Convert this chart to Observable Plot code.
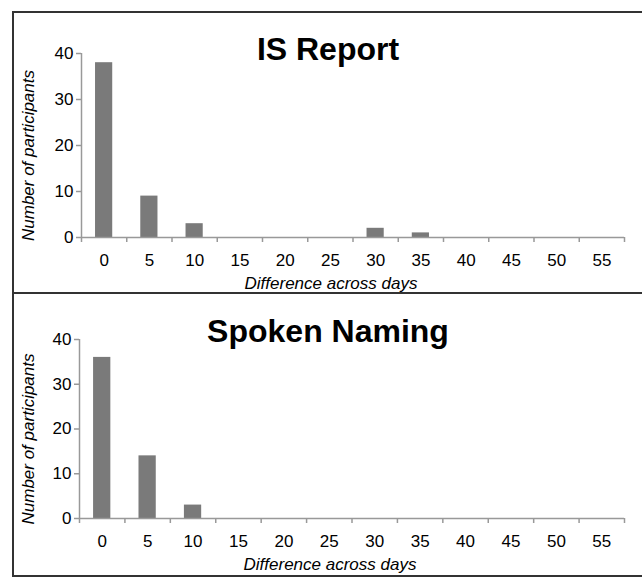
<!DOCTYPE html>
<html>
<head>
<meta charset="utf-8">
<script src="https://cdn.jsdelivr.net/npm/d3@7"></script>
<script src="https://cdn.jsdelivr.net/npm/@observablehq/plot@0.6"></script>
<style>
  html, body { margin: 0; padding: 0; background: #fff; overflow: hidden; }
  #wrap { position: relative; width: 642px; height: 582px; overflow: hidden; font-family: "Liberation Sans", Arial, sans-serif; }
  .panel { position: absolute; box-sizing: border-box; border: 2px solid #333; left: 12px; width: 640px; }
  .title { position: absolute; left: 0; width: 656px; text-align: center; font-weight: bold; font-size: 32px; line-height: 32px; color: #000; white-space: nowrap; }
  .plot { position: absolute; left: 0; }
  .plot svg text { font-size: 17px; }
</style>
</head>
<body>
<div id="wrap">
  <div class="panel" style="top:11px;height:283px;"></div>
  <div class="panel" style="top:292px;height:285px;"></div>
  <div id="p1" class="plot" style="top:0px;"></div>
  <div id="p2" class="plot" style="top:293px;"></div>
  <div class="title" style="top:33px;">IS Report</div>
  <div class="title" style="top:315px;">Spoken Naming</div>
</div>
<script>
// Data
const diffs = [0, 5, 10, 15, 20, 25, 30, 35, 40, 45, 50, 55];
const isReport = [38, 9, 3, 0, 0, 0, 2, 1, 0, 0, 0, 0];
const spokenNaming = [36, 14, 3, 0, 0, 0, 0, 0, 0, 0, 0, 0];
const yTicks = [0, 10, 20, 30, 40];
const xLabel = "Difference across days";
const yLabel = "Number of participants";

const binEdges = diffs.map(d => d - 2.5).concat([diffs[diffs.length - 1] + 2.5]);
const halfBar = 0.95;

function panel(values, opts) {
  const data = diffs.map((d, i) => ({diff: d, count: values[i]})).filter(d => d.count > 0);
  return Plot.plot({
    width: 642,
    height: opts.height,
    marginLeft: opts.marginLeft,
    marginRight: 18,
    marginTop: opts.marginTop,
    marginBottom: opts.marginBottom,
    style: {fontFamily: "'Liberation Sans', Arial, sans-serif", fontSize: "17px", background: "transparent", color: "#000"},
    x: {type: "linear", domain: [binEdges[0], binEdges[binEdges.length - 1]]},
    y: {domain: [0, 40]},
    marks: [
      Plot.rectY(data, {x1: d => d.diff - halfBar, x2: d => d.diff + halfBar, y1: 0, y2: "count", fill: "#7a7a7a"}),
      Plot.ruleY([0], {stroke: "#999", strokeWidth: 1.5}),
      Plot.ruleX([binEdges[0]], {stroke: "#999", strokeWidth: 1.5}),
      Plot.axisX({ticks: binEdges, tickFormat: () => "", tickSize: 5, stroke: "#999", strokeWidth: 1.5, label: null}),
      Plot.axisX({ticks: diffs, tickSize: 0, tickPadding: 16, label: null}),
      Plot.axisY({ticks: yTicks, tickSize: 5, tickPadding: 3, stroke: "#999", strokeWidth: 1.5, label: null}),
      Plot.text([xLabel], {frameAnchor: "bottom", textAnchor: "middle", dx: -22, dy: 46, fontStyle: "italic", lineAnchor: "middle"}),
      Plot.text([yLabel], {frameAnchor: "left", textAnchor: "middle", rotate: -90, dx: opts.yLabelDx, dy: 10, fontStyle: "italic", lineAnchor: "middle"})
    ]
  });
}

document.getElementById("p1").appendChild(panel(isReport, {height: 293, marginLeft: 81, marginTop: 53, marginBottom: 56, yLabelDx: -53}));
document.getElementById("p2").appendChild(panel(spokenNaming, {height: 289, marginLeft: 79, marginTop: 46, marginBottom: 64, yLabelDx: -51}));
</script>
</body>
</html>
